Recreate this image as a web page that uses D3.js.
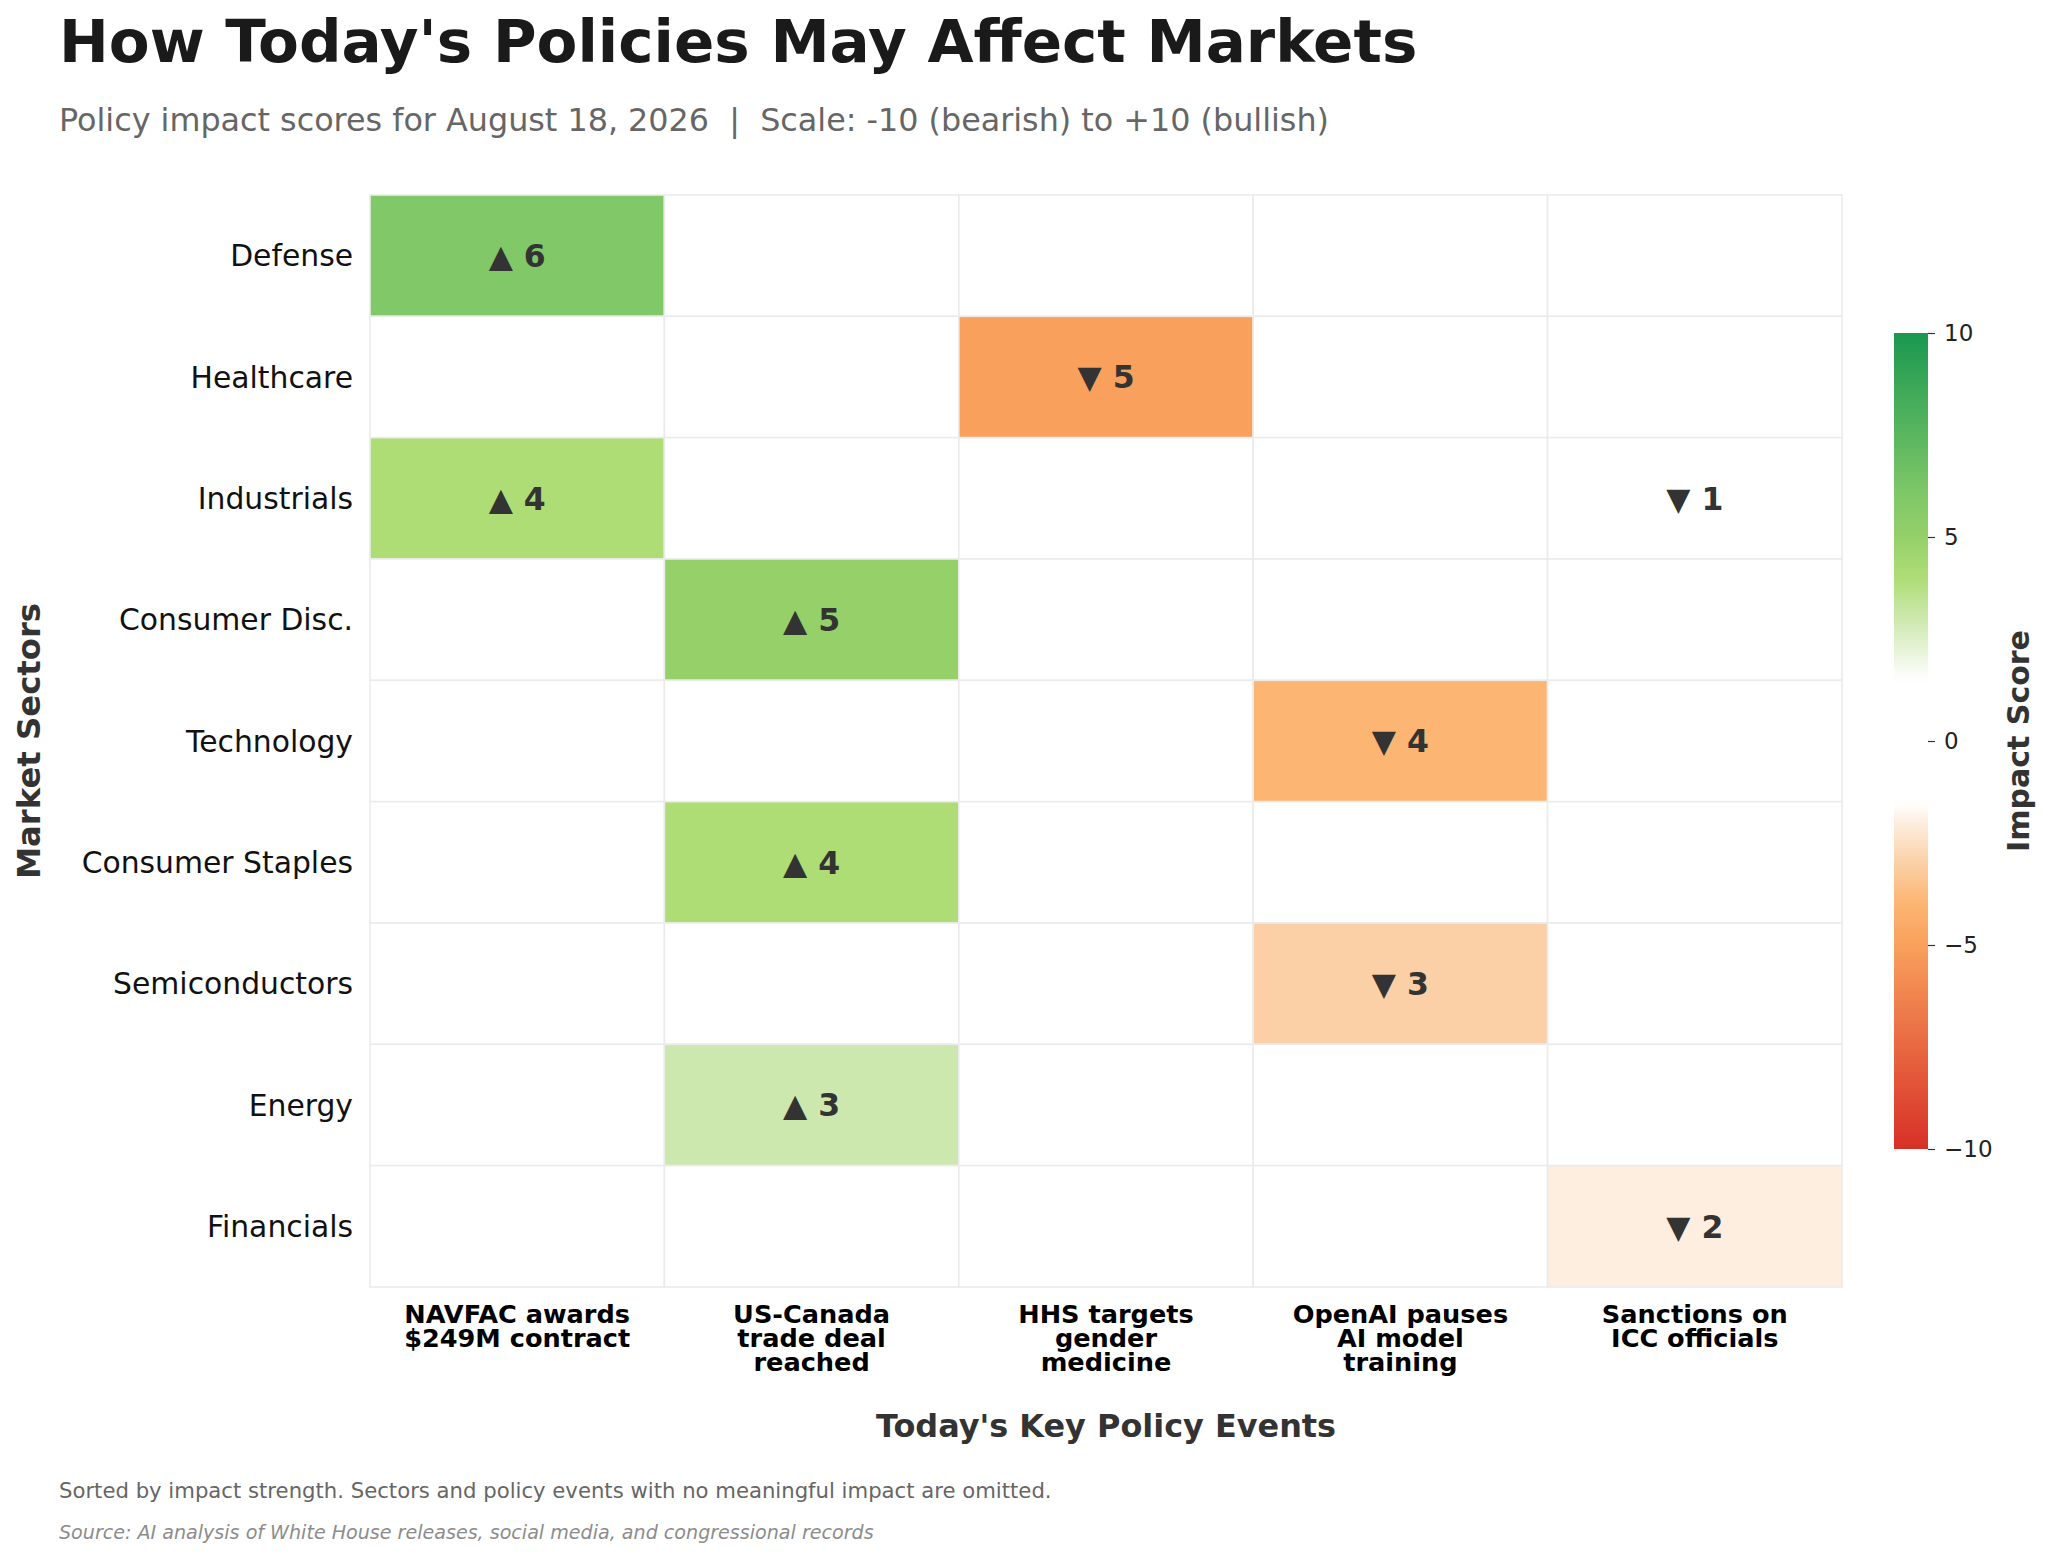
<!DOCTYPE html>
<html>
<head>
<meta charset="utf-8">
<script src="https://cdn.jsdelivr.net/npm/d3@7"></script>
<style>
  body { margin: 0; background: #fff; }
  svg { display: block; font-family: "DejaVu Sans", sans-serif; }
</style>
</head>
<body>
<div id="chart"></div>
<script>
// Data
var sectors = ["Defense", "Healthcare", "Industrials", "Consumer Disc.", "Technology",
  "Consumer Staples", "Semiconductors", "Energy", "Financials"];
var events = [
  ["NAVFAC awards", "$249M contract"],
  ["US-Canada", "trade deal", "reached"],
  ["HHS targets", "gender", "medicine"],
  ["OpenAI pauses", "AI model", "training"],
  ["Sanctions on", "ICC officials"]
];
// one row per sector, one column per event
var scores = [
  [6, 0, 0, 0, 0],
  [0, 0, -5, 0, 0],
  [4, 0, 0, 0, -1],
  [0, 5, 0, 0, 0],
  [0, 0, 0, -4, 0],
  [0, 4, 0, 0, 0],
  [0, 0, 0, -3, 0],
  [0, 3, 0, 0, 0],
  [0, 0, 0, 0, -2]
];
var cbTicks = [10, 5, 0, -5, -10];

var cfg = {
  width: 2048,
  height: 1558,
  left: 370,
  right: 1842,
  top: 195,
  bottom: 1287,
  cbLeft: 1894,
  cbWidth: 34,
  cbTop: 333,
  cbBottom: 1149
};

// diverging scale, white band around zero
var color = d3.scaleLinear()
  .domain([-10, -5, -4, -3, -2, -1.5, 1.5, 3, 4, 5, 6, 10])
  .range(["#d73027", "#f9a05c", "#fcb572", "#fbd0a6", "#fdeee0", "#ffffff",
          "#ffffff", "#cde8ae", "#aedd76", "#95d069", "#80c868", "#1a9850"])
  .clamp(true);

var svg = d3.select("#chart").append("svg")
  .attr("width", cfg.width)
  .attr("height", cfg.height);

// titles
svg.append("text")
  .attr("x", 59).attr("y", 62)
  .attr("font-size", 59.5).attr("font-weight", "bold")
  .attr("fill", "#1a1a1a")
  .text("How Today's Policies May Affect Markets");

svg.append("text")
  .attr("x", 59).attr("y", 131)
  .attr("font-size", 31.8).attr("fill", "#666")
  .attr("xml:space", "preserve")
  .text("Policy impact scores for August 18, 2026  |  Scale: -10 (bearish) to +10 (bullish)");

var x = d3.scaleBand().domain(d3.range(events.length)).range([cfg.left, cfg.right]);
var y = d3.scaleBand().domain(sectors).range([cfg.top, cfg.bottom]);

var cells = [];
scores.forEach(function(row, i) {
  row.forEach(function(v, j) {
    cells.push({ sector: sectors[i], ev: j, v: v });
  });
});

var g = svg.append("g");

g.selectAll("rect.cell")
  .data(cells)
  .enter().append("rect")
  .attr("class", "cell")
  .attr("x", function(d) { return x(d.ev); })
  .attr("y", function(d) { return y(d.sector); })
  .attr("width", x.bandwidth())
  .attr("height", y.bandwidth())
  .attr("fill", function(d) { return color(d.v); })
  .attr("stroke", "#ebebeb")
  .attr("stroke-width", 1.6);

g.selectAll("text.val")
  .data(cells.filter(function(d) { return d.v !== 0; }))
  .enter().append("text")
  .attr("class", "val")
  .attr("x", function(d) { return x(d.ev) + x.bandwidth() / 2; })
  .attr("y", function(d) { return y(d.sector) + y.bandwidth() / 2; })
  .attr("dy", "0.36em")
  .attr("text-anchor", "middle")
  .attr("font-size", 31.5).attr("font-weight", "bold")
  .attr("fill", "#333")
  .text(function(d) { return (d.v > 0 ? "\u25B2 " : "\u25BC ") + Math.abs(d.v); });

// y axis labels
svg.selectAll("text.ylab")
  .data(sectors)
  .enter().append("text")
  .attr("class", "ylab")
  .attr("x", cfg.left - 17)
  .attr("y", function(d) { return y(d) + y.bandwidth() / 2; })
  .attr("dy", "0.36em")
  .attr("text-anchor", "end")
  .attr("font-size", 29.8)
  .attr("fill", "#111")
  .text(function(d) { return d; });

// x axis labels, multi-line
var xl = svg.selectAll("text.xlab")
  .data(events)
  .enter().append("text")
  .attr("class", "xlab")
  .attr("text-anchor", "middle")
  .attr("font-size", 25.6).attr("font-weight", "bold")
  .attr("fill", "#000");
xl.each(function(lines, j) {
  var t = d3.select(this);
  lines.forEach(function(s, k) {
    t.append("tspan")
      .attr("x", x(j) + x.bandwidth() / 2)
      .attr("y", 1323 + k * 24.2)
      .text(s);
  });
});

svg.append("text")
  .attr("x", (cfg.left + cfg.right) / 2).attr("y", 1437)
  .attr("text-anchor", "middle")
  .attr("font-size", 31.9).attr("font-weight", "bold")
  .attr("fill", "#333")
  .text("Today's Key Policy Events");

svg.append("text")
  .attr("transform", "translate(40," + (cfg.top + cfg.bottom) / 2 + ") rotate(-90)")
  .attr("text-anchor", "middle")
  .attr("font-size", 32.3).attr("font-weight", "bold")
  .attr("fill", "#333")
  .text("Market Sectors");

// colorbar
var cb = d3.scaleLinear().domain([-10, 10]).range([cfg.cbBottom, cfg.cbTop]);
var grad = svg.append("defs").append("linearGradient")
  .attr("id", "cbgrad")
  .attr("x1", 0).attr("y1", 1).attr("x2", 0).attr("y2", 0);
grad.selectAll("stop")
  .data(d3.range(0, 1.0001, 0.01))
  .enter().append("stop")
  .attr("offset", function(d) { return d; })
  .attr("stop-color", function(d) { return color(-10 + 20 * d); });

svg.append("rect")
  .attr("x", cfg.cbLeft).attr("y", cfg.cbTop)
  .attr("width", cfg.cbWidth).attr("height", cfg.cbBottom - cfg.cbTop)
  .attr("fill", "url(#cbgrad)");

var cbAxis = d3.axisRight(cb)
  .tickValues(cbTicks)
  .tickSize(7)
  .tickPadding(9)
  .tickFormat(function(d) { return d < 0 ? "\u2212" + Math.abs(d) : d; });

var cbg = svg.append("g")
  .attr("transform", "translate(" + (cfg.cbLeft + cfg.cbWidth) + ",0)")
  .call(cbAxis);
cbg.select(".domain").remove();
cbg.selectAll("line").attr("stroke", "#333").attr("stroke-width", 1.2);
cbg.selectAll("text")
  .attr("font-family", "DejaVu Sans, sans-serif")
  .attr("font-size", 23).attr("fill", "#222");

svg.append("text")
  .attr("transform", "translate(2029," + (cfg.cbTop + cfg.cbBottom) / 2 + ") rotate(-90)")
  .attr("text-anchor", "middle")
  .attr("font-size", 30).attr("font-weight", "bold")
  .attr("fill", "#333")
  .text("Impact Score");

// footnotes
svg.append("text")
  .attr("x", 59).attr("y", 1498)
  .attr("font-size", 21.2).attr("fill", "#666")
  .text("Sorted by impact strength. Sectors and policy events with no meaningful impact are omitted.");

svg.append("text")
  .attr("x", 59).attr("y", 1539)
  .attr("font-size", 19.1).attr("font-style", "italic")
  .attr("fill", "#8c8c8c")
  .text("Source: AI analysis of White House releases, social media, and congressional records");
</script>
</body>
</html>
